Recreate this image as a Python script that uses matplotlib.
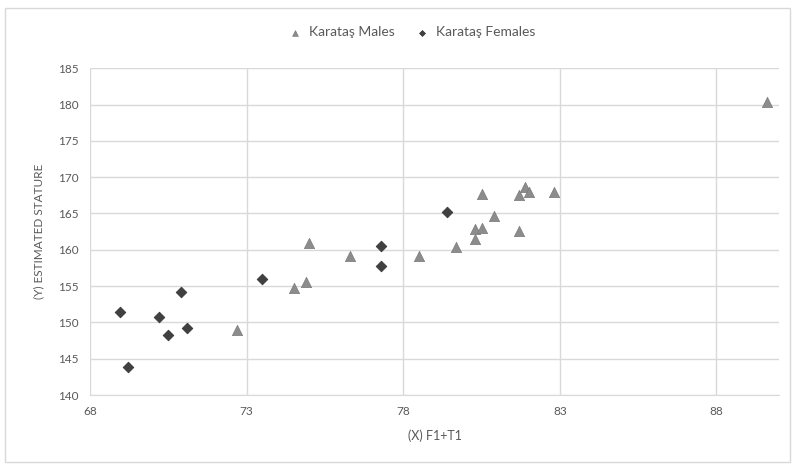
import matplotlib
matplotlib.use("Agg")
import matplotlib.pyplot as plt
from matplotlib.patches import Rectangle

plt.rcParams['font.family'] = ['Lato', 'DejaVu Sans']

males_x = [72.7, 74.5, 74.9, 75.0, 76.3, 78.5, 79.7, 80.3, 80.3, 80.5, 80.5, 80.9, 81.7, 81.7, 81.9, 82.0, 82.8, 89.6]
males_y = [148.9, 154.8, 155.5, 160.9, 159.1, 159.1, 160.4, 161.5, 162.8, 163.0, 167.7, 164.6, 162.6, 167.6, 168.6, 167.9, 168.0, 180.3]

females_x = [68.95, 69.2, 70.2, 70.5, 70.9, 71.1, 73.5, 77.3, 77.3, 79.4]
females_y = [151.4, 143.8, 150.7, 148.3, 154.2, 149.3, 156.0, 160.5, 157.8, 165.2]

x_ticks = [68, 73, 78, 83, 88]
y_ticks = [140, 145, 150, 155, 160, 165, 170, 175, 180, 185]

fig = plt.figure(figsize=(7.93, 4.67), dpi=100)
fig.patches.append(Rectangle((0.006, 0.01), 0.99, 0.972, transform=fig.transFigure,
                             fill=False, edgecolor='#d9d9d9', linewidth=1))
ax = fig.add_axes([0.1135, 0.154, 0.869, 0.7])

ax.scatter(males_x, males_y, marker='^', s=55, color='#8c8c8c', edgecolors='#7a7a7a',
           linewidths=0.5, label='Karataş Males', zorder=3)
ax.scatter(females_x, females_y, marker='D', s=30, color='#404040', edgecolors='#333333',
           linewidths=0.5, label='Karataş Females', zorder=3)

ax.set_xlim(68, 90)
ax.set_ylim(140, 185)
ax.set_xticks(x_ticks)
ax.set_yticks(y_ticks)
ax.grid(True, color='#d9d9d9', linewidth=1)
ax.set_axisbelow(True)
for s in ['top', 'right', 'left']:
    ax.spines[s].set_visible(False)
ax.spines['bottom'].set_color('#d9d9d9')
ax.tick_params(length=0, labelsize=8.5, colors='#595959', pad=8)

ax.set_xlabel('(X) F1+T1', fontsize=9, color='#595959', labelpad=9)
ax.set_ylabel('(Y) ESTIMATED STATURE', fontsize=8.5, color='#595959', labelpad=10)

fig.legend(loc='center', bbox_to_anchor=(0.515, 0.931), ncol=2, frameon=False,
           fontsize=10, labelcolor='#595959', handletextpad=0.0, columnspacing=1.0,
           markerscale=0.55)

fig.savefig('out.png', dpi=100)
